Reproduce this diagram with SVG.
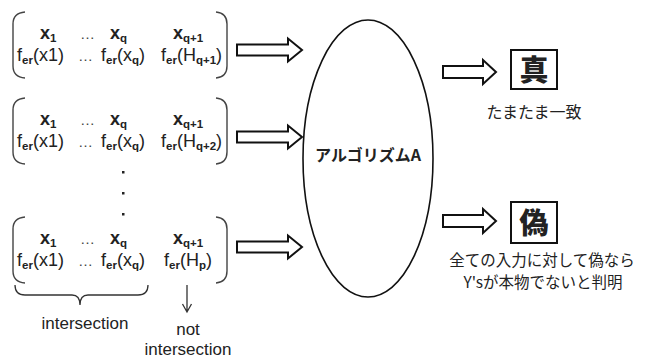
<svg xmlns="http://www.w3.org/2000/svg" width="647" height="358" viewBox="0 0 647 358">
<style>
.t{font-family:"Liberation Sans",Arial,sans-serif;font-size:18px;fill:#222}
.b{font-weight:bold}
.s{font-size:11.5px;font-weight:bold}
.el{font-family:"Liberation Sans",Arial,sans-serif;font-size:15px;fill:#444}
.lb{font-family:"Liberation Sans",Arial,sans-serif;font-size:17px;fill:#222}
.par{fill:none;stroke:#444;stroke-width:1.4}
.arr{fill:#fff;stroke:#111;stroke-width:2;stroke-linejoin:miter}
.jp{font-family:"Noto Sans CJK JP",sans-serif;fill:#222}
.ln{fill:none;stroke:#333;stroke-width:1.3}
</style>
<defs>
<path id="arrL" d="M0,-5.5 H51 V-11.5 L65,0 L51,11.5 V5.5 H0 Z"/>
<path id="arrS" d="M0,-6 H40 V-12 L53,0 L40,12 V6 H0 Z"/>
<g id="mat">
<path class="par" d="M25,0 Q13,1 13,12 L13,54 Q13,65 25,66"/>
<path class="par" d="M216,0 Q227,1 227,12 L227,54 Q227,65 216,66"/>
<text class="t b" x="40" y="27">x<tspan class="s" dy="3">1</tspan></text>
<text class="el" x="80" y="27">…</text>
<text class="t b" x="110" y="27">x<tspan class="s" dy="3">q</tspan></text>
<text class="t b" x="173" y="27">x<tspan class="s" dy="3">q+1</tspan></text>
<text class="t" x="17" y="49">f<tspan class="s" dy="3">er</tspan><tspan dy="-3">(x1)</tspan></text>
<text class="el" x="78" y="49">…</text>
<text class="t" x="101" y="49">f<tspan class="s" dy="3">er</tspan><tspan dy="-3">(x</tspan><tspan class="s" dy="3">q</tspan><tspan dy="-3">)</tspan></text>
</g>
</defs>

<g id="matrix1">
<use href="#mat" x="0" y="12"/>
<text class="t" x="161" y="61">f<tspan class="s" dy="3">er</tspan><tspan dy="-3">(H</tspan><tspan class="s" dy="3">q+1</tspan><tspan dy="-3">)</tspan></text>
</g>
<g id="matrix2">
<use href="#mat" x="0" y="98"/>
<text class="t" x="161" y="147">f<tspan class="s" dy="3">er</tspan><tspan dy="-3">(H</tspan><tspan class="s" dy="3">q+2</tspan><tspan dy="-3">)</tspan></text>
</g>
<g id="vdots" fill="#222">
<rect x="122" y="171" width="2.5" height="2.5"/>
<rect x="122" y="192" width="2.5" height="2.5"/>
<rect x="122" y="213" width="2.5" height="2.5"/>
</g>
<g id="matrix3">
<use href="#mat" x="0" y="217"/>
<text class="t" x="164" y="266">f<tspan class="s" dy="3">er</tspan><tspan dy="-3">(H</tspan><tspan class="s" dy="3">p</tspan><tspan dy="-3">)</tspan></text>
</g>

<g id="labels">
<path class="ln" d="M15,285 Q15,295 25,295 L72,295 Q80,295 80,305 Q80,295 88,295 L138,295 Q148,295 148,285"/>
<text class="lb" x="85" y="329" text-anchor="middle">intersection</text>
<path class="ln" d="M187,285 V312 M182.5,304 L187,312 L191.5,304"/>
<text class="lb" x="188" y="335" text-anchor="middle" font-size="16">not</text>
<text class="lb" x="188" y="355" text-anchor="middle" font-size="16.5">intersection</text>
</g>

<g id="algorithm">
<ellipse cx="368" cy="158.5" rx="65" ry="138.5" fill="#fff" stroke="#111" stroke-width="1.6"/>
<text class="jp" x="368" y="161" text-anchor="middle" font-size="16" font-weight="bold">アルゴリズムA</text>
</g>

<g id="true">
<rect x="511" y="50" width="46" height="39" fill="#fff" stroke="#111" stroke-width="2"/>
<text class="jp" x="534" y="81" text-anchor="middle" font-size="29" font-weight="900" fill="#000">真</text>
<text class="jp" x="534" y="118" text-anchor="middle" font-size="16">たまたま一致</text>
</g>
<g id="false">
<rect x="511" y="202" width="46" height="41" fill="#fff" stroke="#111" stroke-width="2"/>
<text class="jp" x="534" y="234" text-anchor="middle" font-size="29" font-weight="900" fill="#000">偽</text>
<text class="jp" x="542" y="266" text-anchor="middle" font-size="15.5">全ての入力に対して偽なら</text>
<text class="jp" x="543" y="288" text-anchor="middle" font-size="15.5">Y's<tspan>が本物でないと判明</tspan></text>
</g>

<g id="connectors">
<use href="#arrL" class="arr" x="237" y="50"/>
<use href="#arrL" class="arr" x="237" y="137"/>
<use href="#arrL" class="arr" x="237" y="247"/>
<use href="#arrS" class="arr" x="443" y="72"/>
<use href="#arrS" class="arr" x="443" y="221"/>
</g>
</svg>
